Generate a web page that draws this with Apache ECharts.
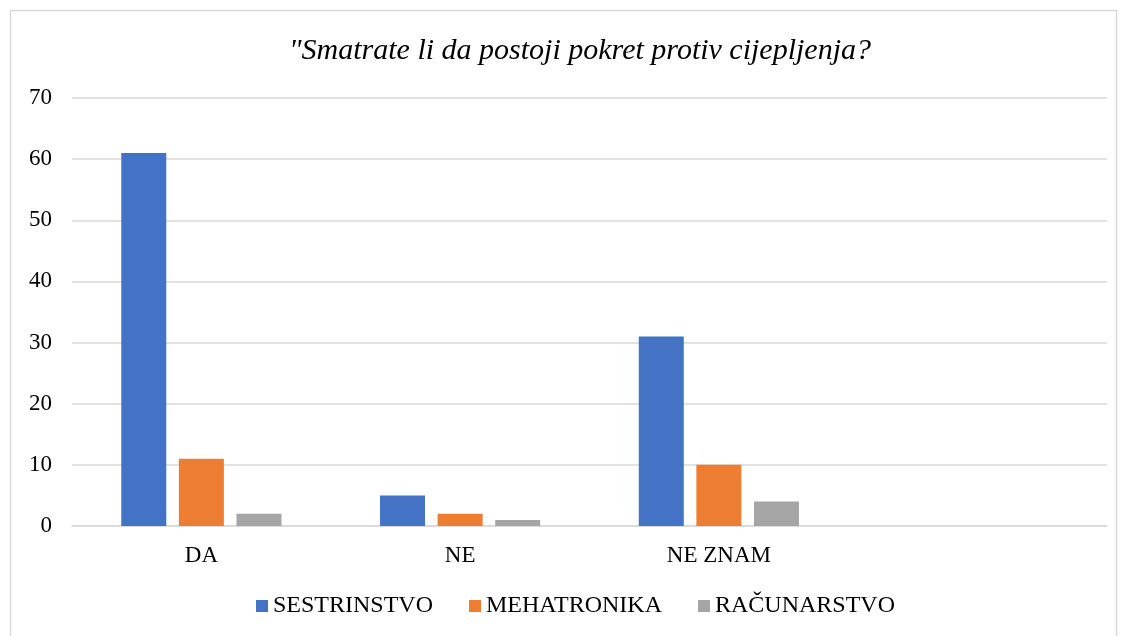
<!DOCTYPE html>
<html><head><meta charset="utf-8">
<script src="https://cdn.jsdelivr.net/npm/echarts@6/dist/echarts.min.js"></script>
<style>html,body{margin:0;padding:0;background:#fff}#c{width:1121px;height:636px}</style>
</head><body><div id="c"></div>
<script>
const categories = ['DA', 'NE', 'NE ZNAM', ''];
const sestrinstvo = [61, 5, 31, null];
const mehatronika = [11, 2, 10, null];
const racunarstvo = [2, 1, 4, null];
const yTicks = { min: 0, max: 70, interval: 10 };

const chart = echarts.init(document.getElementById('c'), null, { renderer: 'canvas' });
const font = '"Liberation Serif", "Times New Roman", serif';
const mk = (name, data, color) => ({
  name, type: 'bar', data, barWidth: 45, barGap: '28%',
  itemStyle: { color }, emphasis: { disabled: true }
});
chart.setOption({
  animation: false,
  graphic: [{ type: 'rect', shape: { x: 10.5, y: 10.5, width: 1106, height: 700 },
    style: { fill: 'none', stroke: '#d9d9d9', lineWidth: 1.5 }, silent: true }],
  title: { text: '"Smatrate li da postoji pokret protiv cijepljenja?', left: 575, top: 31, textAlign: 'center',
    textStyle: { fontFamily: font, fontStyle: 'italic', fontWeight: 'normal', fontSize: 30, color: '#000' } },
  legend: { bottom: 13, left: 251, itemWidth: 12, itemHeight: 12, itemGap: 36, icon: 'rect',
    textStyle: { fontFamily: font, fontSize: 24, color: '#000', padding: [0, 0, 0, 0] } },
  grid: { left: 72, right: 14, top: 98, bottom: 110, containLabel: false },
  xAxis: { type: 'category', data: categories,
    axisLine: { lineStyle: { color: '#d9d9d9', width: 1.5 } }, axisTick: { show: false },
    axisLabel: { fontFamily: font, fontSize: 23, color: '#000', margin: 18 } },
  yAxis: { type: 'value', min: yTicks.min, max: yTicks.max, interval: yTicks.interval,
    axisLine: { show: false }, axisTick: { show: false },
    splitLine: { lineStyle: { color: '#d9d9d9', width: 1.5 } },
    axisLabel: { fontFamily: font, fontSize: 23, color: '#000', margin: 20 } },
  series: [
    mk('SESTRINSTVO', sestrinstvo, '#4472c4'),
    mk('MEHATRONIKA', mehatronika, '#ed7d31'),
    mk('RAČUNARSTVO', racunarstvo, '#a5a5a5')
  ]
});
</script></body></html>
